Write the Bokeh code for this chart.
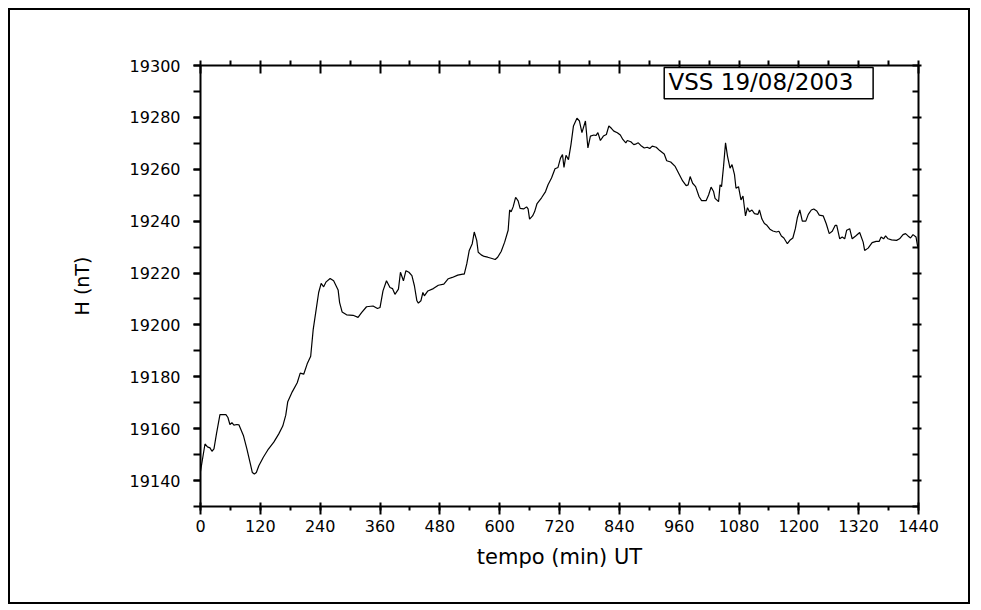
from bokeh.plotting import figure
from bokeh.models import (Range1d, LinearAxis, SingleIntervalTicker, Label,
                          BoxAnnotation)
from bokeh.embed import file_html
from bokeh.resources import INLINE

# time (min UT) and H component (nT)
tempo = [0, 9, 14, 19, 23, 27, 32, 39, 51, 55, 59, 63, 67, 73, 77, 86, 93, 100,
         104, 108, 112, 117, 126, 135, 147, 157, 165, 171, 175, 184, 194, 200,
         207, 214, 221, 226, 232, 237, 242, 247, 252, 260, 267, 276, 279, 284,
         293, 306, 316, 323, 333, 346, 355, 360, 366, 373, 380, 385, 390, 397,
         401, 407, 412, 418, 424, 429, 434, 437, 442, 446, 449, 456, 467, 477,
         488, 497, 505, 516, 526, 529, 534, 539, 545, 549, 554, 557, 563, 569,
         576, 583, 591, 596, 603, 610, 617, 620, 623, 627, 632, 637, 641, 648,
         654, 657, 660, 666, 670, 675, 684, 692, 697, 704, 711, 717, 722, 726,
         729, 733, 738, 743, 748, 755, 760, 765, 772, 777, 782, 789, 793, 797,
         802, 808, 814, 819, 824, 829, 836, 842, 847, 853, 856, 863, 869, 874,
         878, 883, 890, 896, 901, 906, 914, 921, 930, 935, 943, 952, 960, 967,
         974, 978, 982, 987, 993, 1000, 1005, 1014, 1019, 1024, 1029, 1032,
         1039, 1042, 1045, 1049, 1053, 1057, 1062, 1066, 1071, 1074, 1079, 1084,
         1088, 1093, 1097, 1101, 1106, 1111, 1118, 1121, 1126, 1131, 1136, 1142,
         1148, 1155, 1160, 1165, 1170, 1177, 1182, 1188, 1193, 1197, 1202, 1207,
         1214, 1219, 1225, 1230, 1236, 1241, 1249, 1255, 1261, 1267, 1273, 1276,
         1282, 1287, 1292, 1296, 1302, 1307, 1314, 1322, 1329, 1332, 1339, 1347,
         1355, 1361, 1365, 1370, 1374, 1379, 1386, 1396, 1402, 1409, 1414, 1419,
         1424, 1429, 1435, 1438, 1440]

H = [19143.5, 19154.1, 19153.0, 19152.6, 19151.3, 19152.2, 19158.0, 19165.4,
     19165.4, 19164.3, 19161.6, 19162.3, 19161.4, 19161.6, 19161.5, 19157.4,
     19152.2, 19146.4, 19143.1, 19142.5, 19143.1, 19145.7, 19149.0, 19151.8,
     19154.8, 19158.0, 19161.0, 19165.2, 19170.4, 19174.2, 19177.7, 19181.4,
     19181.0, 19185.0, 19187.9, 19198.2, 19206.0, 19212.5, 19216.0, 19214.7,
     19216.6, 19217.9, 19217.0, 19213.5, 19208.6, 19205.0, 19203.9, 19203.7,
     19202.9, 19204.7, 19207.0, 19207.3, 19206.3, 19206.7, 19213.1, 19217.0,
     19214.4, 19214.0, 19211.8, 19213.8, 19220.3, 19217.0, 19220.9, 19220.3,
     19219.0, 19215.1, 19209.3, 19208.4, 19209.3, 19212.5, 19211.2, 19213.1,
     19214.0, 19215.3, 19215.7, 19217.8, 19218.3, 19219.2, 19219.6, 19219.6,
     19223.5, 19228.7, 19231.3, 19235.8, 19232.6, 19228.0, 19227.0, 19226.4,
     19226.1, 19225.7, 19225.2, 19226.1, 19228.3, 19231.9, 19236.5, 19244.3,
     19243.6, 19245.5, 19249.2, 19247.8, 19244.9, 19244.7, 19245.5, 19244.7,
     19240.8, 19242.0, 19243.6, 19246.8, 19249.0, 19251.4, 19254.0, 19256.6,
     19260.2, 19260.7, 19264.3, 19265.7, 19260.7, 19265.4, 19263.7, 19269.5,
     19276.7, 19279.7, 19278.6, 19274.1, 19278.6, 19268.2, 19272.8, 19273.2,
     19273.0, 19274.1, 19271.1, 19272.8, 19273.4, 19276.7, 19275.8, 19274.7,
     19274.1, 19273.2, 19271.5, 19270.2, 19271.1, 19270.6, 19269.5, 19269.8,
     19270.2, 19269.2, 19268.2, 19268.5, 19268.0, 19268.9, 19268.5, 19267.2,
     19265.9, 19263.3, 19262.8, 19261.1, 19258.1, 19255.5, 19253.7, 19254.0,
     19257.2, 19254.6, 19253.3, 19249.4, 19247.9, 19247.9, 19250.1, 19253.1,
     19251.4, 19248.8, 19247.5, 19254.0, 19253.3, 19261.1, 19270.2, 19265.0,
     19260.4, 19261.8, 19257.9, 19252.7, 19253.3, 19248.2, 19249.7, 19242.0,
     19245.2, 19243.6, 19244.3, 19242.9, 19242.6, 19244.3, 19240.8, 19239.1,
     19238.4, 19236.9, 19236.2, 19235.8, 19236.1, 19234.3, 19233.5, 19231.3,
     19232.6, 19233.5, 19237.1, 19241.3, 19244.3, 19240.0, 19240.0, 19242.6,
     19244.3, 19244.7, 19243.9, 19242.3, 19242.0, 19239.0, 19235.2, 19236.1,
     19238.4, 19238.4, 19233.2, 19233.9, 19233.2, 19236.5, 19237.1, 19233.2,
     19234.3, 19235.6, 19231.9, 19228.7, 19229.6, 19231.7, 19232.2, 19232.2,
     19233.9, 19233.2, 19234.3, 19233.2, 19232.8, 19232.6, 19233.2, 19234.8,
     19235.2, 19234.3, 19233.5, 19234.8, 19233.9, 19230.6, 19229.5]

x_range = (0, 1440)
y_range = (19130, 19300)
x_step = 120
y_step = 20
title_text = "VSS 19/08/2003"
x_title = "tempo (min) UT"
y_title = "H (nT)"

FONT = "DejaVu Sans"

p = figure(width=962, height=596, output_backend="svg", toolbar_location=None,
           x_range=Range1d(*x_range), y_range=Range1d(*y_range),
           min_border_left=190, min_border_right=54,
           min_border_top=55, min_border_bottom=100,
           margin=(8, 8, 8, 8),
           styles={"border": "2px solid black"})

p.xgrid.visible = False
p.ygrid.visible = False
p.outline_line_color = None
p.background_fill_color = "white"
p.border_fill_color = "white"

p.line(tempo, H, line_color="black", line_width=1.2)

xt = SingleIntervalTicker(interval=x_step, num_minor_ticks=2)
yt = SingleIntervalTicker(interval=y_step, num_minor_ticks=2)


def style_axis(ax):
    ax.axis_line_color = "black"
    ax.axis_line_width = 2
    ax.major_tick_line_color = "black"
    ax.major_tick_line_width = 2
    ax.minor_tick_line_color = "black"
    ax.minor_tick_line_width = 2
    ax.major_label_text_font = FONT
    ax.major_label_text_font_size = "16px"
    ax.major_label_text_color = "black"
    ax.axis_label_text_font = FONT
    ax.axis_label_text_font_style = "normal"
    ax.axis_label_text_color = "black"


# bottom axis
xa = p.xaxis[0]
xa.ticker = xt
style_axis(xa)
xa.major_tick_in = 4
xa.major_tick_out = 8
xa.minor_tick_in = 0
xa.minor_tick_out = 4
xa.major_label_standoff = 5
xa.axis_label = x_title
xa.axis_label_text_font_size = "21px"
xa.axis_label_standoff = 10

# left axis
ya = p.yaxis[0]
ya.ticker = yt
style_axis(ya)
ya.major_tick_in = 0
ya.major_tick_out = 7
ya.minor_tick_in = 0
ya.minor_tick_out = 7
ya.major_label_standoff = 13
ya.axis_label = y_title
ya.axis_label_text_font_size = "19px"
ya.axis_label_standoff = 34

# top axis (no labels)
ta = LinearAxis(ticker=SingleIntervalTicker(interval=x_step, num_minor_ticks=2))
style_axis(ta)
ta.major_label_text_font_size = "0px"
ta.major_label_text_color = None
ta.major_tick_in = 8
ta.major_tick_out = 0
ta.minor_tick_in = 0
ta.minor_tick_out = 5
ta.major_label_standoff = 0
p.add_layout(ta, "above")

# right axis (no labels)
ra = LinearAxis(ticker=SingleIntervalTicker(interval=y_step, num_minor_ticks=2))
style_axis(ra)
ra.major_label_text_font_size = "0px"
ra.major_label_text_color = None
ra.major_tick_in = 0
ra.major_tick_out = 3
ra.minor_tick_in = 6
ra.minor_tick_out = 0
ra.major_label_standoff = 0
p.add_layout(ra, "right")

# title box in the upper right
box = BoxAnnotation(left=930, right=1349, top=19299.2, bottom=19287.2,
                    fill_color="white", fill_alpha=1.0,
                    line_color="black", line_alpha=1.0, line_width=1.5)
p.add_layout(box)
lab = Label(x=1124, y=19293.6, text=title_text, text_align="center",
            text_baseline="middle", text_font=FONT, text_font_size="23px",
            text_color="black")
p.add_layout(lab)

open("out.html", "w").write(file_html(p, INLINE))
